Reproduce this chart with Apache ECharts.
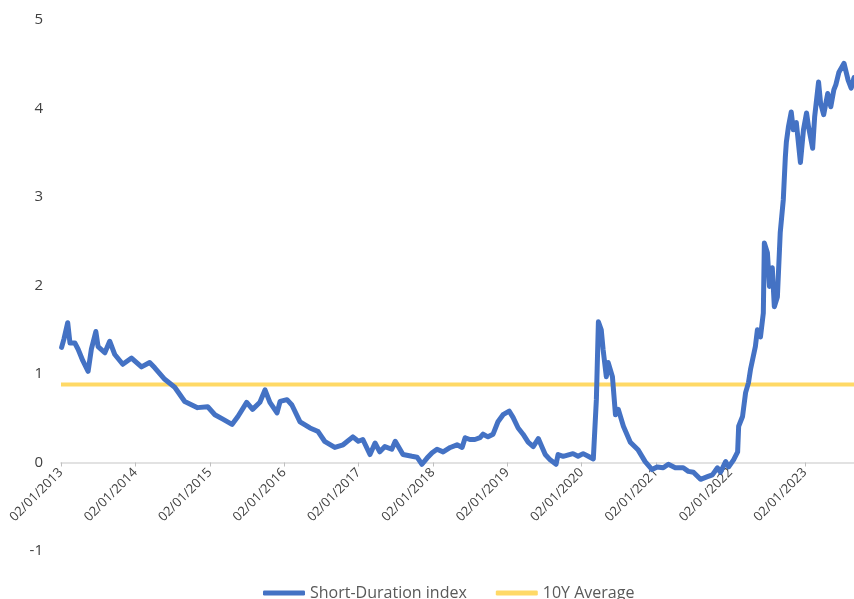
<!DOCTYPE html>
<html>
<head>
<meta charset="utf-8">
<script src="https://cdn.jsdelivr.net/npm/echarts@6/dist/echarts.min.js"></script>
<style>
  html, body { margin: 0; padding: 0; background: #ffffff; }
  #chart { width: 854px; height: 599px; }
</style>
</head>
<body>
<div id="chart"></div>
<script>
// ---- Data ----
const seriesNames = ['Short-Duration index', '10Y Average'];
const dates = [
  '2013-01-05','2013-01-17','2013-02-04','2013-02-15','2013-03-11','2013-03-27','2013-04-19','2013-05-15','2013-05-31','2013-06-22',
  '2013-07-03','2013-08-05','2013-08-29','2013-09-23','2013-11-01','2013-12-14','2014-02-01','2014-03-13','2014-04-07','2014-05-26',
  '2014-07-14','2014-09-01','2014-11-03','2014-12-23','2015-01-27','2015-03-07','2015-04-21','2015-05-20','2015-07-02','2015-07-31',
  '2015-09-05','2015-09-30','2015-10-24','2015-11-28','2015-12-13','2016-01-16','2016-02-09','2016-03-20','2016-05-08','2016-06-17',
  '2016-07-19','2016-09-07','2016-10-18','2016-12-05','2017-01-01','2017-01-23','2017-02-27','2017-03-24','2017-04-16','2017-05-11',
  '2017-06-14','2017-07-01','2017-08-08','2017-09-21','2017-10-16','2017-11-09','2017-12-04','2017-12-29','2018-01-22','2018-02-21',
  '2018-03-28','2018-04-30','2018-05-25','2018-06-09','2018-07-02','2018-07-27','2018-08-21','2018-09-05','2018-09-29','2018-10-24',
  '2018-11-17','2018-12-12','2019-01-11','2019-01-30','2019-02-24','2019-03-20','2019-04-14','2019-05-09','2019-06-03','2019-06-22',
  '2019-07-07','2019-07-31','2019-08-29','2019-09-08','2019-10-03','2019-11-20','2019-12-15','2020-01-09','2020-02-03','2020-02-28',
  '2020-03-14','2020-03-24','2020-04-07','2020-04-16','2020-05-02','2020-05-11','2020-06-01','2020-06-16','2020-06-30','2020-07-25',
  '2020-08-28','2020-10-06','2020-11-09','2020-12-13','2021-01-07','2021-02-06','2021-03-03','2021-04-06','2021-05-15','2021-06-09',
  '2021-07-04','2021-08-08','2021-09-11','2021-10-05','2021-10-30','2021-11-14','2021-12-09','2021-12-24','2022-01-17','2022-02-06',
  '2022-02-11','2022-03-02','2022-03-17','2022-03-31','2022-04-10','2022-05-04','2022-05-14','2022-05-29','2022-06-12','2022-06-17',
  '2022-07-02','2022-07-12','2022-07-26','2022-08-05','2022-08-20','2022-09-03','2022-09-18','2022-09-28','2022-10-03','2022-10-13',
  '2022-10-27','2022-11-06','2022-11-21','2022-12-11','2022-12-26','2023-01-10','2023-01-20','2023-02-09','2023-02-19','2023-03-10',
  '2023-03-20','2023-04-04','2023-04-24','2023-05-09','2023-05-24','2023-06-03','2023-06-18','2023-07-13','2023-08-02','2023-08-17',
  '2023-08-31'
];
const indexValues = [
  1.30,1.40,1.58,1.35,1.35,1.28,1.15,1.03,1.28,1.48,
  1.31,1.24,1.37,1.22,1.11,1.18,1.08,1.13,1.07,0.94,
  0.85,0.69,0.62,0.63,0.54,0.49,0.43,0.52,0.68,0.60,
  0.68,0.82,0.68,0.56,0.69,0.71,0.65,0.46,0.39,0.35,
  0.24,0.17,0.20,0.29,0.24,0.26,0.09,0.22,0.12,0.18,
  0.15,0.24,0.09,0.07,0.06,-0.02,0.05,0.11,0.15,0.12,
  0.17,0.20,0.17,0.28,0.26,0.26,0.28,0.32,0.29,0.32,
  0.46,0.54,0.58,0.51,0.39,0.32,0.23,0.18,0.27,0.17,
  0.09,0.03,-0.02,0.09,0.07,0.10,0.07,0.10,0.07,0.04,
  0.71,1.59,1.50,1.28,0.97,1.13,0.97,0.54,0.60,0.41,
  0.23,0.14,0.01,-0.08,-0.05,-0.06,-0.02,-0.06,-0.06,-0.10,
  -0.11,-0.19,-0.16,-0.14,-0.06,-0.11,0.01,-0.05,0.03,0.12,
  0.41,0.52,0.79,0.90,1.05,1.31,1.50,1.42,1.69,2.48,
  2.37,1.99,2.20,1.76,1.87,2.60,2.97,3.45,3.62,3.79,
  3.96,3.76,3.84,3.39,3.76,3.95,3.79,3.55,3.91,4.30,
  4.06,3.93,4.17,4.02,4.21,4.27,4.41,4.51,4.32,4.23,
  4.35
];
const averageValue = 0.88;
const tickYears = [2013,2014,2015,2016,2017,2018,2019,2020,2021,2022,2023];
const xStartYear = 2013;
const xEndYear = 2023.66;
const yMin = -1, yMax = 5;

// ---- helpers ----
function toDecimalYear(s) {
  const d = new Date(s + 'T00:00:00Z');
  const y = d.getUTCFullYear();
  const start = Date.UTC(y, 0, 2);
  const next = Date.UTC(y + 1, 0, 2);
  return y + (d.getTime() - start) / (next - start);
}
const indexData = dates.map((s, i) => [toDecimalYear(s), indexValues[i]]);
const avgData = [[xStartYear, averageValue], [xEndYear, averageValue]];

const W = 854, H = 599;
const gridTop = 20, gridBottom = 48;
const gridH = H - gridTop - gridBottom;
// move the date axis (line, ticks, labels) up to the value 0
const zeroOffset = -gridH * (0 - yMin) / (yMax - yMin);

const chart = echarts.init(document.getElementById('chart'), null, { renderer: 'canvas' });
const font = 'Open Sans, Liberation Sans, sans-serif';
chart.setOption({
  animation: false,
  backgroundColor: '#ffffff',
  grid: { left: 61, right: 0, top: gridTop, bottom: gridBottom, containLabel: false, outerBoundsMode: 'none' },
  xAxis: {
    type: 'value',
    min: xStartYear,
    max: xEndYear,
    interval: 1,
    position: 'bottom',
    offset: zeroOffset,
    axisLine: { show: true, onZero: false, lineStyle: { color: '#d9d9d9', width: 1.5 } },
    axisTick: { show: true, length: 4, lineStyle: { color: '#bfbfbf' } },
    splitLine: { show: false },
    axisLabel: {
      rotate: 45,
      margin: 8,
      color: '#404040',
      fontFamily: font,
      fontSize: 13,
      showMaxLabel: false,
      hideOverlap: false,
      formatter: function (v) {
        const y = Math.round(v);
        return tickYears.indexOf(y) >= 0 && Math.abs(v - y) < 1e-6 ? '02/01/' + y : '';
      }
    }
  },
  yAxis: {
    type: 'value',
    min: yMin,
    max: yMax,
    interval: 1,
    axisLine: { show: false },
    axisTick: { show: false },
    splitLine: { show: false },
    axisLabel: { color: '#404040', fontFamily: font, fontSize: 15, margin: 18 }
  },
  legend: {
    left: 263,
    top: 585,
    padding: 0,
    itemWidth: 42,
    itemHeight: 5,
    itemGap: 29,
    textStyle: { color: '#595959', fontFamily: font, fontSize: 16 },
    data: [
      { name: seriesNames[0], icon: 'roundRect' },
      { name: seriesNames[1], icon: 'roundRect' }
    ]
  },
  series: [
    {
      name: seriesNames[1],
      type: 'line',
      data: avgData,
      symbol: 'none',
      lineStyle: { color: '#FFD966', width: 4 },
      itemStyle: { color: '#FFD966' },
      z: 2
    },
    {
      name: seriesNames[0],
      type: 'line',
      data: indexData,
      symbol: 'none',
      lineStyle: { color: '#4472C4', width: 5, join: 'round', cap: 'round' },
      itemStyle: { color: '#4472C4' },
      z: 3
    }
  ]
});
</script>
</body>
</html>
